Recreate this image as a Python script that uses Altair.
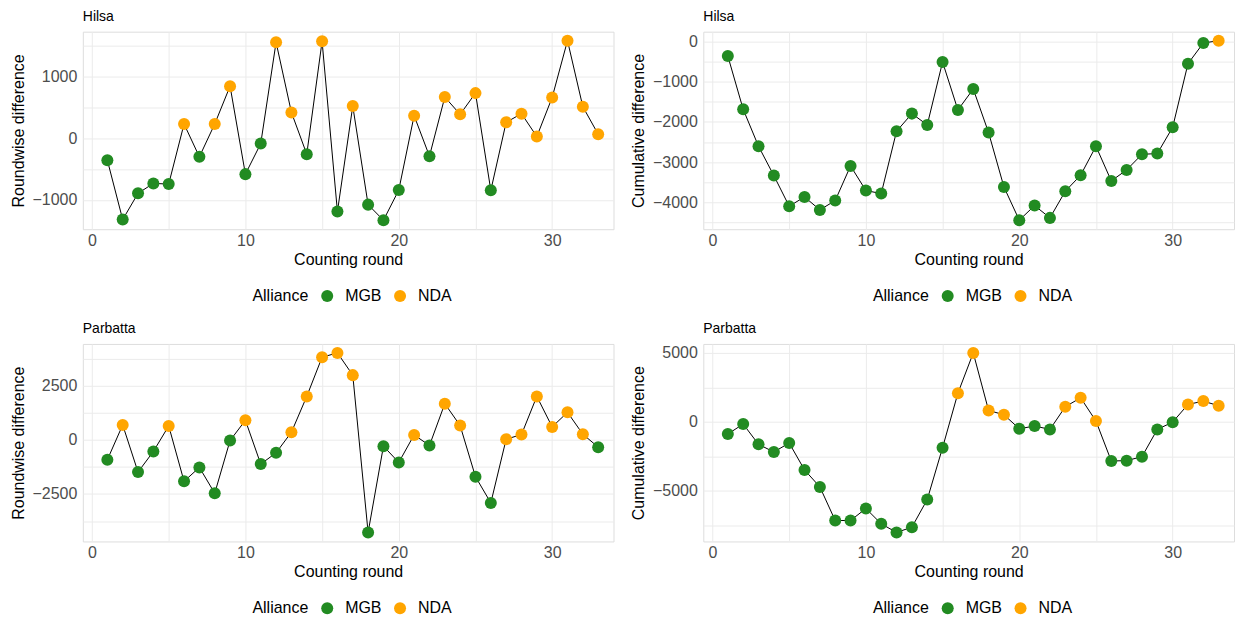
import altair as alt
import pandas as pd

rounds = list(range(1, 34))

hilsa_round = [-355, -1317, -892, -731, -742, 231, -301, 231, 844, -581, -86, 1554, 419, -258,
               1570, -1188, 522, -1075, -1328, -839, 366, -290, 667, 387, 731, -844, 258, 398,
               27, 661, 1581, 511, 65]
hilsa_cum = [-364, -1686, -2603, -3331, -4091, -3860, -4182, -3950, -3091, -3702, -3777, -2231,
             -1793, -2074, -512, -1702, -1182, -2264, -3612, -4438, -4074, -4380, -3719, -3322,
             -2603, -3463, -3190, -2802, -2785, -2132, -554, -41, 17]
parb_round = [-920, 690, -1488, -537, 644, -1917, -1273, -2469, -31, 905, -1120, -598, 353, 2009,
              3819, 4018, 2991, -4279, -291, -1043, 230, -261, 1672, 660, -1702, -2914, 31, 245,
              2009, 598, 1273, 261, -337]
parb_cum = [-894, -169, -1643, -2198, -1546, -3502, -4734, -7174, -7174, -6304, -7415, -8043,
            -7657, -5652, -1884, 2077, 5000, 821, 507, -507, -314, -556, 1087, 1739, 50, -2850,
            -2826, -2536, -556, -30, 1256, 1498, 1159]

alliances = ["MGB", "NDA"]
alliance_colors = ["#228B22", "#FFA500"]

FONT = "Liberation Sans"
W, H = 532, 198


def panel(values, title, ytitle, domain, ticks, major):
    df = pd.DataFrame({"round": rounds, "value": values})
    df["Alliance"] = ["NDA" if v > 0 else "MGB" for v in values]
    x = alt.X("round:Q", title="Counting round",
              scale=alt.Scale(domain=[-0.6, 34.0], nice=False, zero=False),
              axis=alt.Axis(values=[0, 5, 10, 15, 20, 25, 30],
                            labelExpr="datum.value % 10 === 0 ? format(datum.value, 'd') : ''",
                            ticks=False, domain=False, gridColor="#EBEBEB", gridWidth=1,
                            labelFontSize=16, labelColor="#4D4D4D", labelPadding=3,
                            titleFontSize=16, titleFontWeight="normal", titleColor="black",
                            titlePadding=3, labelFont=FONT, titleFont=FONT))
    y = alt.Y("value:Q", title=ytitle,
              scale=alt.Scale(domain=domain, nice=False, zero=False),
              axis=alt.Axis(values=ticks,
                            labelExpr=f"datum.value % {major} === 0 ? format(datum.value, 'd') : ''",
                            ticks=False, domain=False, gridColor="#EBEBEB", gridWidth=1,
                            labelFontSize=16, labelColor="#4D4D4D", labelPadding=6,
                            titleFontSize=16, titleFontWeight="normal", titleColor="black",
                            titlePadding=6, labelFont=FONT, titleFont=FONT))
    base = alt.Chart(df)
    line = base.mark_line(color="black", strokeWidth=1).encode(x=x, y=y)
    pts = base.mark_circle(size=145, opacity=1).encode(
        x=x, y=y,
        color=alt.Color("Alliance:N",
                        scale=alt.Scale(domain=alliances, range=alliance_colors),
                        legend=alt.Legend(orient="none", legendX=170, legendY=257,
                                          direction="horizontal", titleOrient="left",
                                          title="Alliance", symbolType="circle",
                                          symbolSize=145, symbolStrokeWidth=0,
                                          labelFontSize=16, titleFontSize=16,
                                          titleFontWeight="normal", labelColor="black",
                                          titleColor="black", labelFont=FONT, titleFont=FONT,
                                          labelOffset=10, columnPadding=10, titlePadding=10)))
    return alt.layer(line, pts).properties(
        width=W, height=H,
        title=alt.TitleParams(text=title, anchor="start", frame="group", fontSize=14,
                              fontWeight="normal", font=FONT, color="black", offset=8))


p1 = panel(hilsa_round, "Hilsa", "Roundwise difference", [-1473, 1726],
           [-1500, -1000, -500, 0, 500, 1000, 1500], 1000)
p2 = panel(hilsa_cum, "Hilsa", "Cumulative difference", [-4661, 240],
           [-4500, -4000, -3500, -3000, -2500, -2000, -1500, -1000, -500, 0], 1000)
p3 = panel(parb_round, "Parbatta", "Roundwise difference", [-4694, 4433],
           [-3750, -2500, -1250, 0, 1250, 2500, 3750], 2500)
p4 = panel(parb_cum, "Parbatta", "Cumulative difference", [-8695, 5652],
           [-7500, -5000, -2500, 0, 2500, 5000], 5000)

row1 = alt.hconcat(p1, p2, spacing=15).resolve_scale(color="independent")
row2 = alt.hconcat(p3, p4, spacing=15).resolve_scale(color="independent")
chart = alt.vconcat(row1, row2, spacing=16).resolve_scale(color="independent").properties(
    padding={"left": 1, "top": 0, "right": 0, "bottom": 0}
).configure_view(stroke=None).configure(font=FONT)

chart.save("out.html", embed_options={"renderer": "svg", "actions": False})
